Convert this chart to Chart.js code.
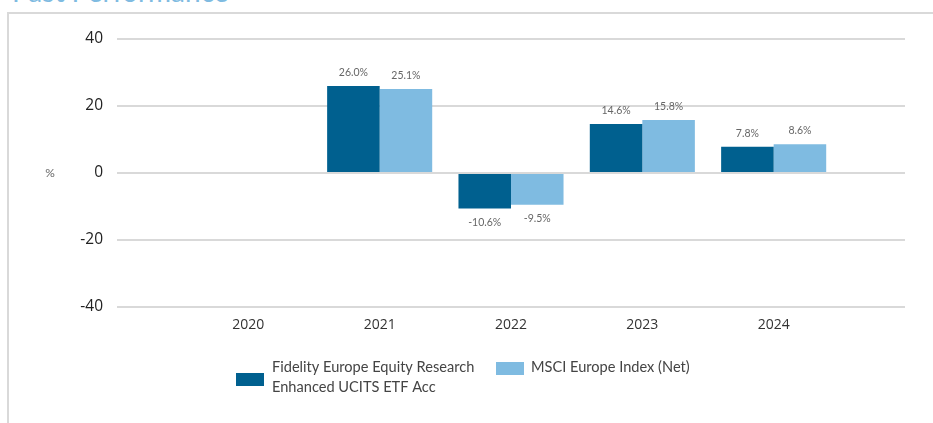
<!DOCTYPE html>
<html>
<head>
<meta charset="utf-8">
<script src="https://cdn.jsdelivr.net/npm/chart.js@4/dist/chart.umd.min.js"></script>
<style>
  html, body { margin: 0; padding: 0; background: #fff; overflow: hidden; }
  #wrap { position: relative; width: 933px; height: 423px; }
  #title { position: absolute; left: 12px; top: -23px; font: 28px "Lato", sans-serif; line-height: 28px; color: #7fbbe1; white-space: nowrap; }
  #frame { position: absolute; left: 7px; top: 12px; width: 940px; height: 430px; border-left: 2px solid #d9d9d9; border-top: 2px solid #d9d9d9; box-sizing: border-box; }
  canvas { position: absolute; left: 0; top: 0; }
</style>
</head>
<body>
<div id="wrap">
  <div id="title">Past Performance</div>
  <div id="frame"></div>
  <canvas id="c" width="933" height="423"></canvas>
</div>
<script>
const categories = ['', '2020', '2021', '2022', '2023', '2024', ''];
const fundName = ['Fidelity Europe Equity Research', 'Enhanced UCITS ETF Acc'];
const indexName = 'MSCI Europe Index (Net)';
const fundValues = [null, null, 26.0, -10.6, 14.6, 7.8, null];
const indexValues = [null, null, 25.1, -9.5, 15.8, 8.6, null];
const yTicks = [-40, -20, 0, 20, 40];

const DARK = '#00608f';
const LIGHT = '#7fbbe1';

const valueLabels = {
  id: 'valueLabels',
  afterDatasetsDraw(chart) {
    const ctx = chart.ctx;
    ctx.save();
    ctx.font = '10.5px "Lato", sans-serif';
    ctx.fillStyle = '#666';
    ctx.textAlign = 'center';
    chart.data.datasets.forEach((ds, di) => {
      const meta = chart.getDatasetMeta(di);
      meta.data.forEach((bar, i) => {
        const v = ds.data[i];
        if (v === null || v === undefined) return;
        const txt = v.toFixed(1) + '%';
        if (v >= 0) {
          ctx.textBaseline = 'bottom';
          ctx.fillText(txt, bar.x, bar.y - 8);
        } else {
          ctx.textBaseline = 'top';
          ctx.fillText(txt, bar.x, bar.y + 9);
        }
      });
    });
    ctx.restore();
  }
};

const extras = {
  id: 'extras',
  afterDraw(chart) {
    const ctx = chart.ctx;
    const ca = chart.chartArea;
    ctx.save();
    ctx.font = '12px "Lato", sans-serif';
    ctx.fillStyle = '#666';
    ctx.textAlign = 'center';
    ctx.textBaseline = 'middle';
    ctx.fillText('%', 50, (ca.top + ca.bottom) / 2);
    ctx.font = '14.6px "Lato", sans-serif';
    ctx.textAlign = 'left';
    ctx.textBaseline = 'alphabetic';
    ctx.fillStyle = DARK;
    ctx.fillRect(236, 373, 28, 13);
    ctx.fillStyle = '#444';
    ctx.fillText(fundName[0], 272, 372);
    ctx.fillText(fundName[1], 272, 392);
    ctx.fillStyle = LIGHT;
    ctx.fillRect(496, 362, 28, 13);
    ctx.fillStyle = '#444';
    ctx.fillText(indexName, 531, 372);
    ctx.restore();
  }
};

new Chart(document.getElementById('c'), {
  type: 'bar',
  data: {
    labels: categories,
    datasets: [
      { label: fundName.join(' '), data: fundValues, backgroundColor: DARK, categoryPercentage: 0.8, barPercentage: 1.0 },
      { label: indexName, data: indexValues, backgroundColor: LIGHT, categoryPercentage: 0.8, barPercentage: 1.0 }
    ]
  },
  options: {
    responsive: false,
    animation: false,
    layout: { padding: { left: 0, top: 39, right: 28, bottom: 86 } },
    plugins: { legend: { display: false }, tooltip: { enabled: false } },
    scales: {
      x: {
        offset: false,
        grid: { display: false, drawTicks: false },
        border: { display: false },
        ticks: { color: '#333', font: { family: '"Open Sans", sans-serif', size: 14 }, padding: 10, maxRotation: 0, autoSkip: false },
        afterFit(scale) { scale.height = 30; }
      },
      y: {
        min: -40, max: 40,
        afterBuildTicks(scale) { scale.ticks = yTicks.map(v => ({ value: v })); },
        grid: { color: '#d9d9d9', lineWidth: 2, drawTicks: false },
        border: { display: false },
        ticks: { color: '#222', font: { family: '"Open Sans", sans-serif', size: 15.5 }, padding: 14 },
        afterFit(scale) { scale.width = 117; }
      }
    }
  },
  plugins: [valueLabels, extras]
});
</script>
</body>
</html>
